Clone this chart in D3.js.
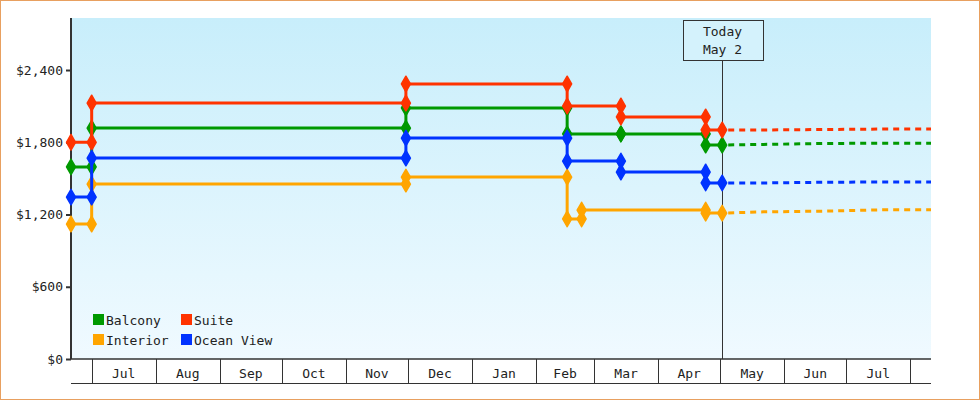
<!DOCTYPE html><html><head><meta charset="utf-8">
<script src="https://cdn.jsdelivr.net/npm/d3@7"></script>
<style>body{margin:0;background:#fff}svg{display:block}text{font-family:"DejaVu Sans Mono",monospace;font-size:13px;fill:#222}</style>
</head><body><svg id="c" width="980" height="400"></svg>
<script>
const seriesNames=["Balcony","Suite","Interior","Ocean View"];
const colors=["#009900","#ff3300","#ffa500","#0033ff"];
const dates=["2022-06-21","2022-07-01","2022-07-01","2022-11-30","2022-11-30","2023-02-16","2023-02-16","2023-03-14","2023-03-14","2023-04-24","2023-04-24","2023-05-02"];
const balcony=[1595,1595,1918,1918,2085,2085,1869,1869,1869,1869,1777,1777];
const suite=[1800,1800,2126,2126,2284,2284,2101,2101,2010,2010,1902,1902];
const interiorDates=["2022-06-21","2022-07-01","2022-07-01","2022-11-30","2022-11-30","2023-02-16","2023-02-16","2023-02-23","2023-02-23","2023-04-24","2023-04-24","2023-05-02"];
const interior=[1121,1121,1453,1453,1511,1511,1163,1163,1237,1237,1212,1212];
const ocean=[1345,1345,1669,1669,1835,1835,1644,1644,1553,1553,1462,1462];
const fcDates=["2023-05-02","2023-05-22","2023-06-21","2023-07-20","2023-08-11"];
const fcBalcony=[1777,1782,1790,1792,1792];
const fcSuite=[1902,1902,1906,1910,1910];
const fcInterior=[1212,1222,1228,1240,1240];
const fcOcean=[1462,1462,1468,1470,1470];
const yTicks=[0,600,1200,1800,2400];
const months=["Jul","Aug","Sep","Oct","Nov","Dec","Jan","Feb","Mar","Apr","May","Jun","Jul"];
const monthStarts=["2022-07-01","2022-08-01","2022-09-01","2022-10-01","2022-11-01","2022-12-01","2023-01-01","2023-02-01","2023-03-01","2023-04-01","2023-05-01","2023-06-01","2023-07-01","2023-08-01"];
const today="2023-05-02";

const p=d3.timeParse("%Y-%m-%d");
const svg=d3.select("#c");
const L=71,R=931,T=18,B=359;
const x=d3.scaleTime().domain([p("2022-06-21"),p("2023-08-11")]).range([L,R]);
const y=d3.scaleLinear().domain([0,2832]).range([B,T]);
svg.append("rect").attr("x",0.5).attr("y",0.5).attr("width",979).attr("height",399).attr("fill","#fff").attr("stroke","#e8a060");
const g=svg.append("defs").append("linearGradient").attr("id","bg").attr("x1",0).attr("x2",0).attr("y1",0).attr("y2",1);
g.append("stop").attr("offset","0").attr("stop-color","#c8eefb");
g.append("stop").attr("offset","1").attr("stop-color","#f0faff");
svg.append("rect").attr("x",L).attr("y",T).attr("width",R-L).attr("height",B-T).attr("fill","url(#bg)");
// y axis
const ya=svg.append("g").attr("transform",`translate(${L},0)`).call(d3.axisLeft(y).tickValues(yTicks).tickSize(5).tickFormat(d=>"$"+d3.format(",")(d)));
ya.select(".domain").attr("stroke","#333").attr("stroke-width",2).attr("d",`M0,${T}V${B}`);
ya.selectAll(".tick line").attr("stroke","#333").attr("stroke-width",2);
ya.selectAll("text").attr("font-size",13).attr("font-family","DejaVu Sans Mono").attr("fill","#222");
// x axis cells
const xa=svg.append("g");
xa.append("line").attr("x1",L).attr("x2",R).attr("y1",B).attr("y2",B).attr("stroke","#333").attr("stroke-width",1.5);
xa.append("line").attr("x1",L).attr("x2",R).attr("y1",383.5).attr("y2",383.5).attr("stroke","#333");
monthStarts.forEach((d,i)=>{const xx=Math.round(x(p(d)))+0.5;
 xa.append("line").attr("x1",xx).attr("x2",xx).attr("y1",B).attr("y2",383).attr("stroke","#333");
 if(i<months.length){const xn=x(p(monthStarts[i+1]));xa.append("text").attr("x",(x(p(d))+xn)/2).attr("y",378).attr("text-anchor","middle").text(months[i]);}
});
// today
const tx=Math.round(x(p(today)))+0.5;
svg.append("line").attr("x1",tx).attr("x2",tx).attr("y1",60).attr("y2",B).attr("stroke","#333");
svg.append("rect").attr("x",683.5).attr("y",20.5).attr("width",80).attr("height",40).attr("fill","#d4f2fc").attr("stroke","#333");
svg.append("text").attr("x",tx).attr("y",36).attr("text-anchor","middle").text("Today");
svg.append("text").attr("x",tx).attr("y",54).attr("text-anchor","middle").text("May 2");
// series
const ser=[[balcony,dates,fcBalcony],[suite,dates,fcSuite],[interior,interiorDates,fcInterior],[ocean,dates,fcOcean]];
const line=d3.line().x(d=>x(d[0])).y(d=>y(d[1]));
ser.forEach(([vals,ds,fc],i)=>{
 const pts=vals.map((v,j)=>[p(ds[j]),v]);
 svg.append("path").attr("d",line(pts)).attr("fill","none").attr("stroke",colors[i]).attr("stroke-width",3);
 const fp=fc.map((v,j)=>[p(fcDates[j]),v]);
 svg.append("path").attr("d",line(fp)).attr("fill","none").attr("stroke",colors[i]).attr("stroke-width",3).attr("stroke-dasharray","6,5").attr("stroke-dashoffset",-6);
 svg.selectAll(null).data(pts).enter().append("path").attr("transform",d=>`translate(${x(d[0])},${y(d[1])})`)
  .attr("d",d3.symbol(d3.symbolDiamond,70)()).attr("fill",colors[i]).attr("stroke",colors[i]).attr("stroke-width",1.5).attr("stroke-linejoin","round");
});
// legend
const lg=[[0,93,320],[1,181,320],[2,93,340],[3,181,340]];
lg.forEach(([i,lx,ly])=>{
 svg.append("rect").attr("x",lx).attr("y",ly-6).attr("width",11).attr("height",11).attr("fill",colors[i]);
 svg.append("text").attr("x",lx+13).attr("y",ly+5).text(seriesNames[i]);
});
</script></body></html>
